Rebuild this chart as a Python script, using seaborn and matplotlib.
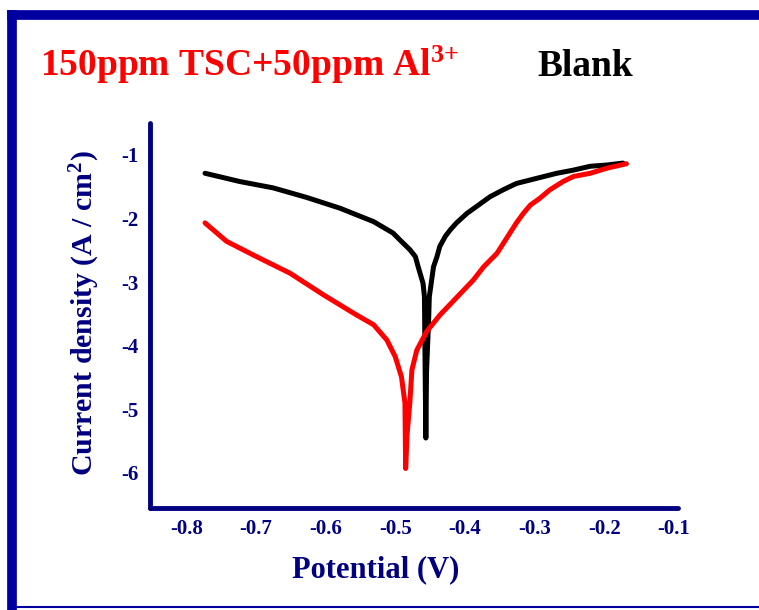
import matplotlib
matplotlib.use('Agg')
import matplotlib.pyplot as plt
import seaborn as sns
import pandas as pd
from matplotlib.lines import Line2D

# Tafel curves
blank_potential = [-0.773, -0.746, -0.723, -0.675, -0.627, -0.579, -0.531, -0.503,
                   -0.493, -0.479, -0.471, -0.467, -0.460, -0.458, -0.457, -0.456,
                   -0.455, -0.452, -0.451, -0.445, -0.440, -0.436, -0.428, -0.421,
                   -0.412, -0.397, -0.383, -0.364, -0.345, -0.326, -0.297, -0.268,
                   -0.244, -0.220, -0.196, -0.173]
blank_current = [-1.29, -1.36, -1.42, -1.52, -1.67, -1.84, -2.05, -2.23,
                 -2.34, -2.49, -2.60, -2.76, -3.02, -3.23, -4.40, -5.45,
                 -4.40, -3.60, -3.23, -2.76, -2.60, -2.44, -2.28, -2.18,
                 -2.07, -1.92, -1.81, -1.66, -1.55, -1.45, -1.37, -1.29,
                 -1.24, -1.18, -1.16, -1.13]

tsc_potential = [-0.773, -0.742, -0.699, -0.651, -0.603, -0.555, -0.531, -0.512,
                 -0.500, -0.491, -0.486, -0.485, -0.483, -0.479, -0.476, -0.469,
                 -0.455, -0.436, -0.388, -0.373, -0.354, -0.340, -0.326, -0.316,
                 -0.306, -0.292, -0.278, -0.259, -0.244, -0.220, -0.196, -0.168]
tsc_current = [-2.07, -2.36, -2.60, -2.86, -3.20, -3.52, -3.67, -3.91,
               -4.17, -4.49, -4.90, -5.93, -5.40, -4.90, -4.38, -4.07,
               -3.78, -3.52, -2.97, -2.76, -2.55, -2.31, -2.07, -1.92,
               -1.79, -1.68, -1.55, -1.42, -1.34, -1.29, -1.21, -1.14]

x_ticks = [-0.8, -0.7, -0.6, -0.5, -0.4, -0.3, -0.2, -0.1]
y_ticks = [-1, -2, -3, -4, -5, -6]

df = pd.concat([
    pd.DataFrame({'E': blank_potential, 'logi': blank_current, 'curve': 'Blank'}),
    pd.DataFrame({'E': tsc_potential, 'logi': tsc_current, 'curve': 'TSC'}),
], ignore_index=True)

sns.set_style('white')
plt.rcParams['font.family'] = ['Liberation Serif', 'DejaVu Serif']
plt.rcParams['font.weight'] = 'bold'
plt.rcParams['mathtext.fontset'] = 'custom'
plt.rcParams['mathtext.rm'] = 'Liberation Serif:bold'
plt.rcParams['mathtext.it'] = 'Liberation Serif:bold'
plt.rcParams['mathtext.bf'] = 'Liberation Serif:bold'
plt.rcParams['axes.unicode_minus'] = False

navy = '#000080'
frame_blue = '#0000A0'

fig = plt.figure(figsize=(7.59, 6.10), dpi=100)
ax = fig.add_axes([150 / 759, 1 - 508 / 610, 528 / 759, 385 / 610])

sns.lineplot(data=df, x='E', y='logi', hue='curve', sort=False, estimator=None,
             palette={'Blank': 'black', 'TSC': '#ff0000'}, linewidth=3.6,
             legend=False, ax=ax)

ax.set_xlim(-0.852, -0.094)
ax.set_ylim(-6.55, -0.5)
ax.set_xticks(x_ticks)
ax.set_xticklabels([f'{v:.1f}' for v in x_ticks])
ax.set_yticks(y_ticks)
ax.set_yticklabels([str(v) for v in y_ticks])
ax.tick_params(length=0, labelsize=15, labelcolor=navy, pad=8)
for lab in ax.get_xticklabels() + ax.get_yticklabels():
    lab.set_fontweight('bold')

for side in ['top', 'right']:
    ax.spines[side].set_visible(False)
for side in ['left', 'bottom']:
    ax.spines[side].set_color(navy)
    ax.spines[side].set_linewidth(3.5)
    ax.spines[side].set_capstyle('round')

ax.set_xlabel('Potential (V)', fontsize=22, fontweight='bold', color=navy)
ax.xaxis.set_label_coords(0.428, -0.122)
ax.set_ylabel('Current density (A / cm$^{2}$)', fontsize=21.5, fontweight='bold',
              color=navy)
ax.yaxis.set_label_coords(-0.09, 0.505)

fig.text(40 / 759, 1 - 76 / 610, '150ppm TSC+50ppm Al$^{3{+}}$', fontsize=27,
         fontweight='bold', color='#ff0000', ha='left', va='baseline')
fig.text(537 / 759, 1 - 76 / 610, 'Blank', fontsize=27, fontweight='bold',
         color='black', ha='left', va='baseline')

# blue border round the picture
fig.add_artist(Line2D([12 / 759, 12 / 759], [1 - 15 / 610, 1 - 607 / 610],
                      transform=fig.transFigure, color=frame_blue, linewidth=7,
                      solid_capstyle='projecting'))
fig.add_artist(Line2D([12 / 759, 1.0], [1 - 15 / 610, 1 - 15 / 610],
                      transform=fig.transFigure, color=frame_blue, linewidth=7,
                      solid_capstyle='projecting'))
fig.add_artist(Line2D([12 / 759, 1.0], [1 - 607 / 610, 1 - 607 / 610],
                      transform=fig.transFigure, color=frame_blue, linewidth=1.5))

fig.savefig('out.png', dpi=100)
